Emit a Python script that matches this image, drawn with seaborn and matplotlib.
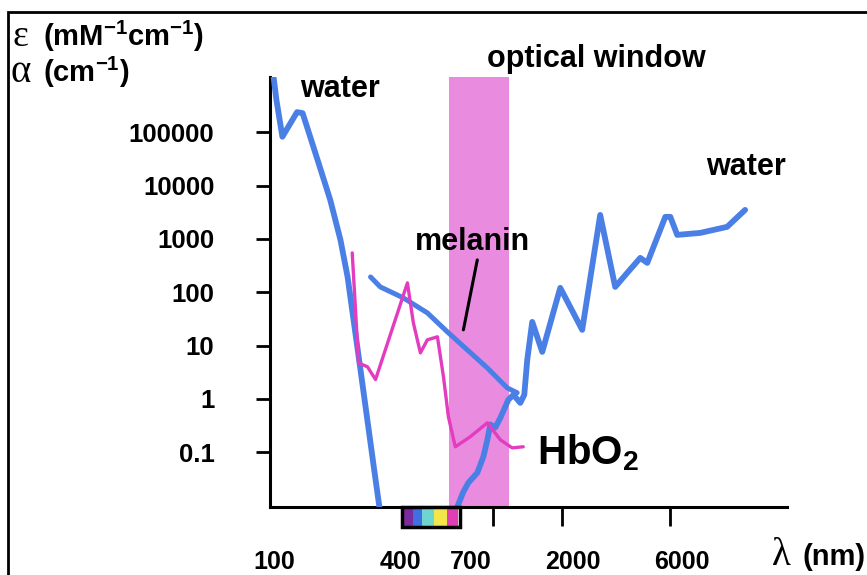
import numpy as np
import matplotlib
matplotlib.use("Agg")
import matplotlib.pyplot as plt
from matplotlib.patches import Rectangle
from matplotlib.ticker import FixedLocator, NullFormatter, NullLocator
import seaborn as sns

# absorption data (wavelength in nm, value in cm-1 / mM-1cm-1)
water_uv_nm = [109, 112, 119, 138, 146, 170, 193, 214, 230, 262, 298, 317]
water_uv_val = [1.05e6, 4.1e5, 8.3e4, 2.4e5, 2.3e5, 3.0e4, 5400, 960, 194, 3.5, 0.063, 0.0094]

water_ir_nm = [697, 741, 779, 853, 907, 944, 973, 1023, 1077, 1167, 1228, 1317, 1371, 1413,
               1486, 1644, 1972, 2462, 2953, 3436, 3879, 4426, 4752, 5700, 6000, 6430, 8110,
               10650, 12770]
water_ir_val = [0.0094, 0.018, 0.0265, 0.041, 0.082, 0.17, 0.33, 0.29, 0.44, 0.96, 1.19, 0.84,
                1.19, 5.4, 27.8, 7.6, 121, 19.7, 2830, 126, 231, 442, 356, 2600, 2600, 1194,
                1300, 1690, 3515]

melanin_nm = [290, 320, 404, 515, 630, 771, 944, 1155, 1276]
melanin_val = [194, 126, 78.5, 41, 18.1, 8.3, 3.8, 1.6, 1.3]

hbo2_nm = [241, 257, 281, 305, 421, 447, 480, 515, 570, 606, 637, 683, 794, 944, 1077, 1213, 1357]
hbo2_val = [548, 4.7, 4.0, 2.3, 150, 26.7, 7.3, 12.8, 14.6, 2.6, 0.46, 0.126, 0.194, 0.355,
            0.17, 0.12, 0.126]

window_nm = (640, 1170)
spectrum_edges = [400, 447, 490, 550, 630, 700]
spectrum_colors = ["#7a2c9e", "#3f6fe0", "#6fd6cf", "#f2e64a", "#e03fb4"]

ytick_vals = [0.1, 1, 10, 100, 1000, 10000, 100000]
ytick_labels = ["0.1", "1", "10", "100", "1000", "10000", "100000"]
xlabel_pos = [110, 392, 795, 2250, 6770]
xtick_labels = ["100", "400", "700", "2000", "6000"]
xtick_marks = [1000, 2000, 6000]

sns.set_theme(style="white")
plt.rcParams["font.family"] = ["Liberation Sans", "DejaVu Sans"]
plt.rcParams["font.weight"] = "bold"
plt.rcParams["text.color"] = "black"
plt.rcParams["mathtext.fontset"] = "custom"
plt.rcParams["mathtext.rm"] = "Liberation Sans:bold"
plt.rcParams["mathtext.bf"] = "Liberation Sans:bold"

fig = plt.figure(figsize=(8.67, 5.75), dpi=100)
ax = fig.add_axes([270 / 867, 1 - 507 / 575, 517 / 867, 430 / 575])
ax.set_xscale("log")
ax.set_yscale("log")
ax.set_xlim(105, 19500)
ax.set_ylim(10 ** -2.03, 10 ** 6.04)

blue = "#4a80e6"
pink = "#e43cbf"
line_kw = dict(sort=False, estimator=None, solid_capstyle="round", solid_joinstyle="round")

ax.axvspan(*window_nm, color="#e98ce0", zorder=0, lw=0)

sns.lineplot(x=water_uv_nm, y=water_uv_val, ax=ax, color=blue, lw=4.2, zorder=3, **line_kw)
sns.lineplot(x=water_ir_nm, y=water_ir_val, ax=ax, color=blue, lw=4.2, zorder=3, **line_kw)
sns.lineplot(x=melanin_nm, y=melanin_val, ax=ax, color=blue, lw=3.6, zorder=3, **line_kw)
sns.lineplot(x=hbo2_nm, y=hbo2_val, ax=ax, color=pink, lw=2.4, zorder=4, **line_kw)

# visible spectrum strip under the axis
tr = ax.get_xaxis_transform()
for lo, hi, c in zip(spectrum_edges[:-1], spectrum_edges[1:], spectrum_colors):
    ax.add_patch(Rectangle((lo, -0.046), hi - lo, 0.046, transform=tr, color=c,
                           clip_on=False, lw=0, zorder=5))
ax.add_patch(Rectangle((spectrum_edges[0], -0.046), spectrum_edges[-1] * 1.02 - spectrum_edges[0],
                       0.046, transform=tr, fill=False, edgecolor="black", lw=2.5,
                       clip_on=False, zorder=6))

# axes styling
for s in ["top", "right"]:
    ax.spines[s].set_visible(False)
for s in ["left", "bottom"]:
    ax.spines[s].set_linewidth(2.2)
    ax.spines[s].set_color("black")

ax.set_yticks(ytick_vals)
ax.set_yticklabels(ytick_labels)
ax.yaxis.set_minor_locator(NullLocator())
ax.tick_params(axis="y", which="major", length=10, width=2, pad=30, labelsize=18.5,
               direction="out", left=True, colors="black")

ax.set_xticks(xlabel_pos)
ax.set_xticklabels(xtick_labels)
ax.xaxis.set_minor_locator(FixedLocator(xtick_marks))
ax.xaxis.set_minor_formatter(NullFormatter())
ax.tick_params(axis="x", which="major", length=0, pad=31, labelsize=18, colors="black")
ax.tick_params(axis="x", which="minor", length=14, width=2, direction="out", bottom=True,
               color="black")
for lab in ax.get_xticklabels() + ax.get_yticklabels():
    lab.set_fontweight("bold")

# labels
ax.text(214, 4.6e5, "water", ha="center", va="baseline", fontsize=22, weight="bold")
ax.text(2840, 1.69e6, "optical window", ha="center", va="baseline", fontsize=22, weight="bold")
ax.text(12900, 15950, "water", ha="center", va="baseline", fontsize=22, weight="bold")
ax.text(811, 624, "melanin", ha="center", va="baseline", fontsize=22, weight="bold")
ax.annotate("", xy=(741, 19.7), xytext=(853, 405),
            arrowprops=dict(arrowstyle="-", lw=2.2, color="black", shrinkA=0, shrinkB=0),
            zorder=5)
ax.text(1564, 0.0578, r"HbO$_\mathrm{2}$", ha="left", va="baseline", fontsize=29, weight="bold")

serif = ["Liberation Serif", "DejaVu Serif"]
fig.text(12 / 867, 1 - 46 / 575, "ε", fontsize=27, family=serif, weight="normal", va="baseline")
fig.text(43 / 867, 1 - 46 / 575, r"(mM$^\mathrm{-1}$cm$^\mathrm{-1}$)", fontsize=21,
         weight="bold", va="baseline")
fig.text(11 / 867, 1 - 82 / 575, "α", fontsize=28, family=serif, weight="normal", va="baseline")
fig.text(43 / 867, 1 - 82 / 575, r"(cm$^\mathrm{-1}$)", fontsize=21, weight="bold",
         va="baseline")
fig.text(772 / 867, 1 - 565 / 575, "λ", fontsize=28, family=serif, weight="normal",
         va="baseline")
fig.text(803 / 867, 1 - 565 / 575, "(nm)", fontsize=21, weight="bold", va="baseline")

# outer frame (right and bottom edges run off the picture)
fig.patches.append(Rectangle((8 / 867, -0.1), 2, 1 - 12 / 575 + 0.1, transform=fig.transFigure,
                             fill=False, edgecolor="black", lw=2))

fig.savefig("out.png", dpi=100, facecolor="white")
